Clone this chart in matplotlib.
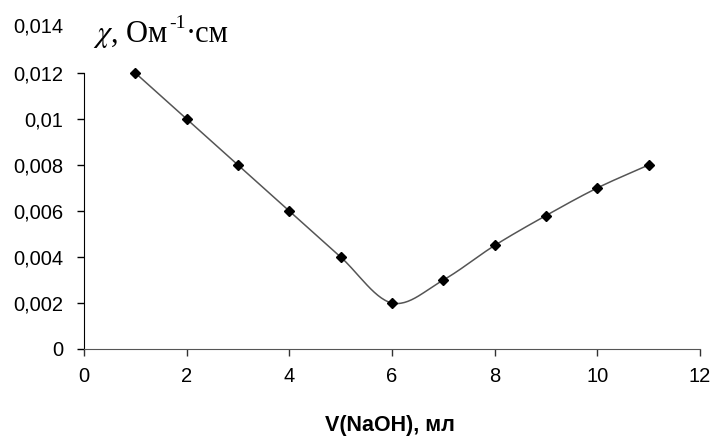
import matplotlib
matplotlib.use('Agg')
import matplotlib.pyplot as plt
from matplotlib.transforms import offset_copy
import numpy as np

# data
volume = [1, 2, 3, 4, 5, 6, 7, 8, 9, 10, 11]
conductivity = [0.012, 0.010, 0.008, 0.006, 0.004, 0.002, 0.003, 0.0045, 0.0058, 0.007, 0.008]
y_ticks = [0, 0.002, 0.004, 0.006, 0.008, 0.010, 0.012]
y_tick_labels = ['0', '0,002', '0,004', '0,006', '0,008', '0,01', '0,012']
x_ticks = [0, 2, 4, 6, 8, 10, 12]


def smooth(x, y, n=30):
    # Catmull-Rom curve through the points (like Excel smoothed line)
    x = np.asarray(x, float)
    y = np.asarray(y, float)
    px = np.concatenate([[2 * x[0] - x[1]], x, [2 * x[-1] - x[-2]]])
    py = np.concatenate([[2 * y[0] - y[1]], y, [2 * y[-1] - y[-2]]])
    xs, ys = [], []
    t = np.linspace(0, 1, n)
    for i in range(1, len(px) - 2):
        for p, out in ((px, xs), (py, ys)):
            p0, p1, p2, p3 = p[i - 1], p[i], p[i + 1], p[i + 2]
            out.extend(0.5 * (2 * p1 + (-p0 + p2) * t
                              + (2 * p0 - 5 * p1 + 4 * p2 - p3) * t ** 2
                              + (-p0 + 3 * p1 - 3 * p2 + p3) * t ** 3))
    return xs, ys


plt.rcParams['font.family'] = ['Liberation Sans', 'DejaVu Sans']
plt.rcParams['mathtext.fontset'] = 'stix'

fig = plt.figure(figsize=(7.12, 4.37), dpi=100)
ax = fig.add_axes([0.118, 0.2014, 0.865, 0.7368])

sx, sy = smooth(volume, conductivity)
ax.plot(sx, sy, color='#555555', lw=1.1)
ax.plot(volume, conductivity, 'D', color='black', ms=5)

ax.set_xlim(0, 12)
ax.set_ylim(0, 0.014)
ax.set_xticks(x_ticks)
ax.set_yticks(y_ticks)
ax.set_yticklabels(y_tick_labels)
ax.tick_params(axis='y', labelsize=14.5, length=5, width=1, color='black', pad=10)
ax.tick_params(axis='x', labelsize=14.5, length=5, width=1, color='#333333', pad=8)
ax.spines['top'].set_visible(False)
ax.spines['right'].set_visible(False)
ax.spines['bottom'].set_color('#555555')
ax.spines['left'].set_bounds(0, 0.012)

ax.text(-0.034, 0.014, '0,014', transform=ax.get_yaxis_transform(),
        ha='right', va='center', fontsize=14.5)

# y axis title in pieces: "χ, Ом" + superscript "-1" + "·см"
renderer = fig.canvas.get_renderer()
base = fig.transFigure
x0, y0 = 93 / 712, 1 - 42 / 437
t1 = fig.text(x0, y0, r'$\chi$, Ом', fontsize=22, family='Liberation Serif',
              va='baseline', ha='left')
w1 = t1.get_window_extent(renderer).width
t2 = fig.text(x0, y0, '-1', fontsize=14, family='Liberation Serif', va='baseline', ha='left',
              transform=offset_copy(base, fig=fig, x=w1 + 1, y=14, units='dots'))
w2 = t2.get_window_extent(renderer).width
fig.text(x0, y0, '·см', fontsize=22, family='Liberation Serif', va='baseline', ha='left',
         transform=offset_copy(base, fig=fig, x=w1 + w2 + 1, y=0, units='dots'))

fig.text(0.548, 0.027, 'V(NaOH), мл', ha='center', va='center',
         fontsize=15.5, fontweight='bold')

fig.savefig('out.png', dpi=100)
